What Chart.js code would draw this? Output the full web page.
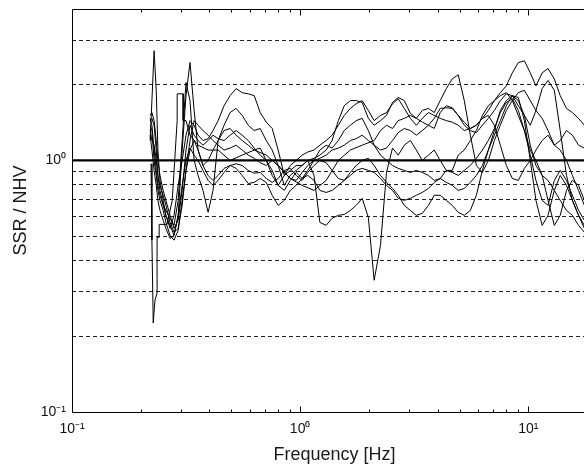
<!DOCTYPE html>
<html>
<head>
<meta charset="utf-8">
<script src="https://cdn.jsdelivr.net/npm/chart.js@4"></script>
<style>
  html, body { margin: 0; padding: 0; background: #fff; overflow: hidden; }
  #wrap { position: absolute; left: 0; top: 0; width: 620px; height: 468px; }
</style>
</head>
<body>
<div id="wrap"><canvas id="chart"></canvas></div>
<script>
// shared frequency grid [Hz] for curves A-G
const freqs = [
  0.220, 0.224, 0.229, 0.234, 0.238, 0.243, 0.251, 0.258, 0.269, 0.280,
  0.292, 0.304, 0.316, 0.329, 0.343, 0.357, 0.375, 0.395, 0.415, 0.437,
  0.464, 0.493, 0.524, 0.557, 0.592, 0.629, 0.668, 0.710, 0.754, 0.801,
  0.852, 0.905, 0.961, 1.02, 1.08, 1.15, 1.22, 1.30, 1.38, 1.47,
  1.56, 1.66, 1.76, 1.87, 1.99, 2.11, 2.25, 2.39, 2.54, 2.69,
  2.86, 3.04, 3.23, 3.43, 3.65, 3.87, 4.11, 4.37, 4.64, 4.93,
  5.24, 5.57, 5.92, 6.29, 6.68, 7.10, 7.54, 8.01, 8.51, 9.04,
  9.61, 10.2, 10.8, 11.5, 12.2, 13.0, 13.8, 14.7, 15.6, 16.6,
  17.6, 18.7
];

const curveA = [
  1.20, 1.73, 2.73, 1.90, 1.10, 0.833, 0.694, 0.605, 0.537, 0.605,
  0.796, 1.00, 1.26, 1.44, 1.38, 1.26, 1.20, 1.22, 1.315, 1.44,
  1.65, 1.81, 1.93, 1.86, 1.84, 1.81, 1.55, 1.42, 1.34, 1.10,
  0.872, 0.955, 1.00, 1.05, 1.08, 1.10, 1.15, 1.20, 1.26, 1.38,
  1.51, 1.61, 1.68, 1.73, 1.58, 1.44, 1.51, 1.55, 1.68, 1.76,
  1.61, 1.47, 1.38, 1.47, 1.55, 1.51, 1.47, 1.44, 1.42, 1.38,
  1.315, 1.34, 1.38, 1.47, 1.58, 1.73, 1.86, 1.98, 2.23, 2.45,
  2.49, 2.23, 1.98, 2.23, 2.32, 2.11, 1.81, 1.61, 1.55, 1.47,
  1.38, 1.315
];
const curveB = [
  1.44, 1.47, 1.38, 1.10, 0.872, 0.760, 0.663, 0.605, 0.552, 0.504,
  0.605, 1.10, 1.81, 2.45, 1.58, 1.10, 0.955, 1.00, 1.10, 1.20,
  1.38, 1.55, 1.61, 1.51, 1.38, 1.315, 1.34, 1.20, 1.10, 0.955,
  0.796, 0.872, 0.913, 0.955, 1.00, 1.02, 1.05, 1.10, 1.20, 1.44,
  1.65, 1.73, 1.73, 1.70, 1.47, 1.38, 1.44, 1.51, 1.70, 1.78,
  1.73, 1.54, 1.47, 1.42, 1.38, 1.34, 1.55, 1.65, 1.62, 1.51,
  1.38, 1.315, 1.29, 1.38, 1.47, 1.58, 1.73, 1.84, 1.81, 1.65,
  1.51, 1.38, 1.58, 1.93, 2.08, 1.90, 1.315, 0.872, 0.694, 0.605,
  0.552, 0.527
];
const curveC = [
  1.47, 1.38, 1.10, 0.913, 0.796, 0.727, 0.663, 0.633, 0.589, 0.552,
  0.694, 1.20, 2.04, 1.73, 1.00, 0.872, 0.760, 0.622, 0.760, 1.20,
  1.315, 1.34, 1.26, 1.20, 1.15, 1.10, 1.12, 1.00, 0.872, 0.796,
  0.872, 0.913, 0.955, 0.955, 1.00, 0.872, 0.567, 0.552, 0.589, 0.605,
  0.61, 0.633, 0.663, 0.707, 0.594, 0.334, 0.460, 0.896, 1.12, 1.05,
  1.15, 1.20, 1.10, 1.00, 1.05, 1.10, 1.00, 0.913, 0.913, 1.05,
  1.10, 1.20, 1.315, 1.51, 1.65, 1.73, 1.81, 1.86, 1.73, 1.51,
  1.315, 1.10, 1.00, 0.872, 0.694, 0.552, 0.605, 0.760, 0.833, 0.796,
  0.694, 0.633
];
const curveD = [
  1.38, 1.315, 1.00, 0.872, 0.760, 0.694, 0.633, 0.567, 0.504, 0.482,
  0.527, 0.694, 0.913, 1.10, 1.20, 1.10, 0.955, 0.872, 0.833, 0.872,
  0.93, 0.955, 0.97, 0.955, 0.913, 0.89, 0.896, 0.848, 0.818, 0.848,
  0.913, 0.93, 0.872, 0.833, 0.896, 0.955, 1.00, 0.98, 0.913, 0.848,
  0.833, 0.896, 0.955, 1.00, 1.02, 0.955, 0.872, 0.818, 0.774, 0.727,
  0.663, 0.633, 0.605, 0.616, 0.663, 0.727, 0.727, 0.694, 0.663, 0.622,
  0.605, 0.633, 0.727, 0.913, 1.10, 1.26, 1.44, 1.65, 1.81, 1.73,
  1.51, 1.15, 0.955, 0.872, 0.833, 0.760, 0.694, 0.633, 0.605, 0.552,
  0.518, 0.504
];
const curveE = [
  1.51, 1.55, 1.44, 1.20, 1.00, 0.872, 0.760, 0.694, 0.605, 0.537,
  0.578, 0.760, 1.10, 1.38, 1.26, 1.20, 1.15, 1.20, 1.26, 1.22,
  1.20, 1.26, 1.315, 1.26, 1.20, 1.12, 1.05, 1.00, 0.913, 0.796,
  0.760, 0.833, 0.896, 0.848, 0.913, 1.00, 1.10, 1.15, 1.12, 1.20,
  1.315, 1.38, 1.44, 1.47, 1.315, 1.15, 1.05, 1.00, 0.955, 0.93,
  0.913, 0.896, 0.913, 0.896, 0.872, 0.833, 0.848, 0.913, 0.896, 0.872,
  0.913, 0.955, 1.02, 1.10, 1.20, 1.34, 1.55, 1.70, 1.76, 1.58,
  1.315, 1.05, 0.833, 0.694, 0.663, 0.833, 0.913, 0.833, 0.727, 0.633,
  0.578, 0.552
];
const curveF = [
  1.315, 1.20, 1.15, 1.00, 0.872, 0.796, 0.727, 0.663, 0.567, 0.518,
  0.537, 0.663, 0.913, 1.20, 1.44, 1.38, 1.315, 1.26, 1.20, 1.15,
  1.10, 1.12, 1.15, 1.10, 1.05, 1.02, 0.98, 0.955, 1.00, 0.955,
  0.896, 0.848, 0.833, 0.896, 0.955, 1.00, 1.02, 1.05, 1.10, 1.12,
  1.15, 1.20, 1.22, 1.26, 1.20, 1.15, 1.10, 1.12, 1.20, 1.29,
  1.34, 1.315, 1.26, 1.315, 1.38, 1.47, 1.61, 1.62, 1.61, 1.51,
  1.42, 1.34, 1.38, 1.47, 1.51, 1.38, 1.15, 0.955, 0.848, 0.833,
  0.93, 1.00, 1.10, 1.20, 1.26, 1.15, 1.20, 1.315, 1.26, 1.15,
  1.12, 1.10
];
const curveG = [
  1.26, 1.10, 0.913, 0.796, 0.694, 0.633, 0.578, 0.537, 0.490, 0.504,
  0.605, 0.796, 1.00, 1.12, 1.05, 1.00, 0.913, 0.833, 0.796, 0.833,
  0.896, 0.955, 0.93, 0.872, 0.81, 0.818, 0.848, 0.818, 0.727, 0.663,
  0.694, 0.760, 0.796, 0.848, 0.872, 0.833, 0.760, 0.746, 0.760, 0.796,
  0.833, 0.872, 0.913, 0.93, 0.913, 0.896, 0.848, 0.796, 0.760, 0.707,
  0.694, 0.707, 0.727, 0.746, 0.774, 0.818, 0.848, 0.818, 0.796, 0.760,
  0.774, 0.818, 0.872, 0.955, 1.10, 1.315, 1.58, 1.73, 1.81, 1.78,
  1.44, 1.00, 0.694, 0.552, 0.605, 0.760, 0.872, 0.796, 0.694, 0.605,
  0.537, 0.518
];

// curve with the step-like start (own frequency list)
const stepFreqs = [
  0.222, 0.224, 0.227, 0.231, 0.236, 0.236, 0.241, 0.241, 0.261, 0.275,
  0.289, 0.289, 0.307, 0.307, 0.316, 0.329, 0.357, 0.395, 0.437, 0.493,
  0.557, 0.629, 0.710, 0.801, 0.905, 1.02, 1.15, 1.30, 1.47, 1.66,
  1.87, 2.11, 2.25, 2.39, 2.54, 2.69, 2.86, 3.04, 3.23, 3.43,
  3.65, 3.87, 4.11, 4.37, 4.64, 4.93, 5.24, 5.57, 5.92, 6.29,
  6.68, 7.10, 7.54, 8.01, 8.51, 9.04, 9.61, 10.2, 10.8, 11.5,
  12.2, 13.0, 13.8, 14.7, 15.6, 16.6, 17.6, 18.7
];
const curveH = [
  0.97, 0.482, 0.226, 0.278, 0.297, 0.495, 0.495, 0.557, 0.557, 0.694,
  1.44, 1.84, 1.84, 1.44, 1.44, 1.26, 1.15, 1.10, 1.10, 1.00,
  1.05, 1.10, 1.05, 0.955, 0.848, 0.796, 0.760, 0.833, 1.00, 1.10,
  1.15, 1.20, 1.315, 1.38, 1.34, 1.44, 1.47, 1.51, 1.47, 1.58,
  1.61, 1.55, 1.73, 1.93, 2.11, 2.19, 1.73, 1.26, 0.955, 0.896,
  1.00, 1.20, 1.38, 1.58, 1.73, 1.86, 1.90, 1.73, 1.58, 1.47,
  1.315, 1.15, 1.10, 1.00, 0.872, 0.760, 0.663, 0.633
];

const refLevel = 1;
const yGrid = [0.1, 0.2, 0.3, 0.4, 0.5, 0.6, 0.7, 0.8, 0.9, 1, 2, 3, 4];
const xLabels = [0.1, 1, 10];
const xTicks = [0.2, 0.3, 0.4, 0.5, 0.6, 0.7, 0.8, 0.9, 1, 2, 3, 4, 5, 6, 7, 8, 9, 10, 20];
const decadeText = { 0.1: '10\u207B\u00B9', 1: '10\u2070', 10: '10\u00B9' };

const xMin = 0.1, xMax = 20, yMin = 0.1, yMax = 4;
const font = 'Liberation Sans, Arial, Helvetica, sans-serif';

function pts(xs, ys) {
  return xs.map((x, i) => ({ x: x, y: ys[i] }));
}

function curve(data) {
  return {
    data: data,
    showLine: true,
    borderColor: '#000',
    borderWidth: 1,
    pointRadius: 0,
    tension: 0,
    fill: false
  };
}

// frame and inward ticks, like the original figure
const framePlugin = {
  id: 'framePlugin',
  afterDatasetsDraw(chart) {
    const ctx = chart.ctx;
    const a = chart.chartArea;
    const x = chart.scales.x;
    ctx.save();
    ctx.strokeStyle = '#000';
    ctx.lineWidth = 1;
    const l = Math.round(a.left) + 0.5, t = Math.round(a.top) + 0.5;
    const r = Math.round(a.right) + 0.5, b = Math.round(a.bottom) + 0.5;
    ctx.beginPath();
    ctx.moveTo(r, t); ctx.lineTo(l, t); ctx.lineTo(l, b); ctx.lineTo(r, b);
    xTicks.forEach(v => {
      const px = Math.round(x.getPixelForValue(v)) + 0.5;
      const len = xLabels.includes(v) ? 6 : 3;
      ctx.moveTo(px, b); ctx.lineTo(px, b - len);
      ctx.moveTo(px, t); ctx.lineTo(px, t + len);
    });
    ctx.stroke();
    ctx.restore();
  }
};

const datasets = [
  curve(pts(freqs, curveA)),
  curve(pts(freqs, curveB)),
  curve(pts(freqs, curveC)),
  curve(pts(freqs, curveD)),
  curve(pts(freqs, curveE)),
  curve(pts(freqs, curveF)),
  curve(pts(freqs, curveG)),
  curve(pts(stepFreqs, curveH)),
  Object.assign(curve([{ x: xMin, y: refLevel }, { x: xMax, y: refLevel }]), { borderWidth: 2.2 })
];

new Chart(document.getElementById('chart'), {
  type: 'scatter',
  data: { datasets: datasets },
  plugins: [framePlugin],
  options: {
    responsive: true,
    maintainAspectRatio: false,
    animation: false,
    layout: { padding: { top: 9, right: 23, left: 0, bottom: 0 } },
    plugins: { legend: { display: false }, tooltip: { enabled: false } },
    scales: {
      x: {
        type: 'logarithmic',
        min: xMin,
        max: xMax,
        afterBuildTicks: s => { s.ticks = xLabels.map(v => ({ value: v })); },
        afterFit: s => { s.height = 56; s.paddingLeft = 0; s.paddingRight = 0; },
        grid: { display: false, drawTicks: false },
        border: { display: false },
        ticks: {
          color: '#111',
          padding: 9,
          maxRotation: 0,
          autoSkip: false,
          font: { family: font, size: 14 },
          callback: v => decadeText[v] || ''
        },
        title: {
          display: true,
          text: 'Frequency [Hz]',
          color: '#1a1a1a',
          font: { family: font, size: 18 },
          padding: { top: 0, bottom: 2 }
        }
      },
      y: {
        type: 'logarithmic',
        min: yMin,
        max: yMax,
        afterBuildTicks: s => { s.ticks = yGrid.map(v => ({ value: v })); },
        afterFit: s => { s.width = 72; s.paddingTop = 0; s.paddingBottom = 0; },
        grid: {
          drawTicks: false,
          lineWidth: 1,
          color: c => (c.tick && [0.1, 1, 4].includes(c.tick.value)) ? 'rgba(0,0,0,0)' : '#222'
        },
        border: { display: false, dash: [4, 3] },
        ticks: {
          color: '#111',
          padding: 6,
          autoSkip: false,
          font: { family: font, size: 14 },
          callback: v => decadeText[v] || ''
        },
        title: {
          display: true,
          text: 'SSR / NHV',
          color: '#1a1a1a',
          font: { family: font, size: 18 },
          padding: { top: 10, bottom: 0 }
        }
      }
    }
  }
});
</script>
</body>
</html>
